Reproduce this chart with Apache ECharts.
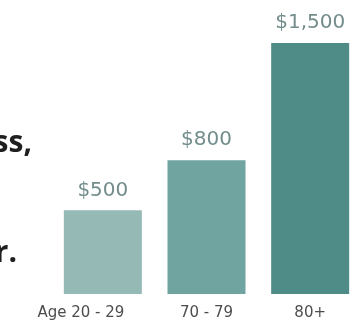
<!DOCTYPE html>
<html>
<head>
<meta charset="utf-8">
<style>
  html, body { margin: 0; padding: 0; background: #ffffff; }
  #chart { width: 355px; height: 331px; }
</style>
<script src="https://cdn.jsdelivr.net/npm/echarts@6/dist/echarts.min.js"></script>
</head>
<body>
<div id="chart"></div>
<script>
// Average yearly cost by age group
const categories = ['Age 20 - 29', '70 - 79', '80+'];
const costs = [500, 800, 1500];
const barColors = ['#95bab6', '#6fa4a0', '#4f8b87'];

// Tail ends of the headline lines at the left edge
const sideLines = ['ss,', 'r.'];

const chart = echarts.init(document.getElementById('chart'), null, { renderer: 'canvas' });

const fmtMoney = v => '$' + v.toLocaleString('en-US');

chart.setOption({
  backgroundColor: '#ffffff',
  animation: false,
  grid: { left: 51, width: 311, top: 43, bottom: 37, outerBoundsMode: 'none', containLabel: false },
  xAxis: {
    type: 'category',
    data: categories.map((c, i) => i === 0
      ? { value: c, textStyle: { padding: [0, 44, 0, 0] } }
      : c),
    axisLine: { show: false },
    axisTick: { show: false },
    axisLabel: {
      interval: 0,
      hideOverlap: false,
      margin: 12,
      fontFamily: 'DejaVu Sans',
      fontSize: 15,
      color: '#4d4d4d'
    }
  },
  yAxis: {
    type: 'value',
    min: 0,
    max: 1500,
    show: false,
    splitLine: { show: false }
  },
  series: [{
    type: 'bar',
    barWidth: 78,
    data: costs.map((v, i) => ({ value: v, itemStyle: { color: barColors[i] } })),
    label: {
      show: true,
      position: 'top',
      distance: 10,
      formatter: p => fmtMoney(p.value),
      fontFamily: 'DejaVu Sans',
      fontSize: 20,
      color: '#728d8c'
    }
  }],
  graphic: [
    {
      type: 'text',
      style: {
        text: sideLines[0],
        x: 32, y: 158,
        align: 'right',
        verticalAlign: 'bottom',
        font: 'bold 30px "Open Sans"',
        fill: '#1f1f1f'
      }
    },
    {
      type: 'text',
      style: {
        text: sideLines[1],
        x: 17, y: 268,
        align: 'right',
        verticalAlign: 'bottom',
        font: 'bold 30px "Open Sans"',
        fill: '#1f1f1f'
      }
    }
  ]
});
</script>
</body>
</html>
